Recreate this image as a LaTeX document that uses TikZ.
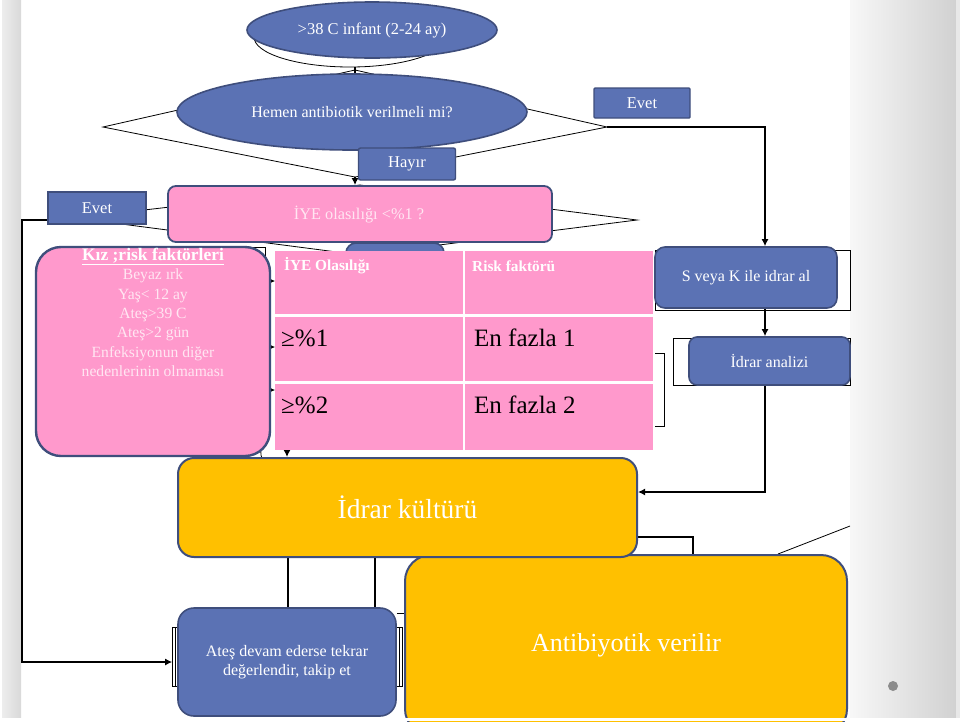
\documentclass[tikz,border=0pt]{standalone}
\usepackage{fontspec}
\setmainfont{Liberation Serif}
\usetikzlibrary{shapes.geometric,arrows.meta,calc}
\definecolor{nblue}{HTML}{5B72B4}
\definecolor{nborder}{HTML}{3F4E7C}
\definecolor{npink}{HTML}{FF99CC}
\definecolor{nyellow}{HTML}{FFC000}
\definecolor{pinktext}{HTML}{FFE6F2}
\pgfdeclarelayer{back}
\pgfdeclarelayer{bg}
\pgfsetlayers{back,bg,main}
\tikzset{
  oval/.style={ellipse, draw=nborder, fill=nblue, line width=1.6pt, text=white, inner sep=0pt},
  bluebox/.style={draw=nborder, fill=nblue, line width=1.6pt, text=white, rounded corners=6pt, inner sep=0pt},
  tagbox/.style={draw=nborder, fill=nblue, line width=1.4pt, text=white, rounded corners=2pt, inner sep=0pt, font=\fontsize{16.5}{19}\selectfont},
  pinkbox/.style={draw=nborder, fill=npink, line width=1.8pt, rounded corners=8pt, inner sep=0pt},
  yellowbox/.style={draw=nborder, fill=nyellow, line width=2pt, text=white, rounded corners=16pt, inner sep=0pt},
  cell/.style={fill=npink, inner sep=0pt, anchor=north west},
  blk/.style={line width=1.8pt, black},
  thinblk/.style={line width=0.8pt, black},
  tip/.style={-{Latex[length=7pt,width=7pt]}}
}
\begin{document}
\begin{tikzpicture}[x=1pt,y=-1pt]
\useasboundingbox (0,0) rectangle (960,721);
\begin{pgfonlayer}{back}
  \fill[white] (0,0) rectangle (960,721);
  \shade[left color=black!7, right color=black!15] (2,0) rectangle (21,718);
  \shade[left color=black!3, right color=black!18] (850,0) rectangle (956,718);
  \fill[black!9] (956,0) rectangle (960,718);
\end{pgfonlayer}

% nodes
\node[oval, minimum width=250, minimum height=56, font=\fontsize{16.5}{19}\selectfont] (start) at (372,30) {>38 C infant (2-24 ay)};
\node[oval, minimum width=350, minimum height=76, font=\fontsize{16}{19}\selectfont] (q) at (352,112) {Hemen antibiotik verilmeli mi?};
\node[tagbox, rounded corners=1pt, minimum width=96, minimum height=30] (evR) at (642,103) {Evet};
\node[tagbox, minimum width=97, minimum height=32] (hayir) at (407,164) {Hayır};
\node[tagbox, rounded corners=0pt, minimum width=98, minimum height=32] (evL) at (97,208) {Evet};
\node[pinkbox, minimum width=384, minimum height=56] (iye) at (360,214) {};
\node[text=pinktext, font=\fontsize{16.3}{19}\selectfont] (iyetxt) at (359,215) {İYE olasılığı <\%1 ?};

\node[pinkbox, line width=2.4pt, rounded corners=25pt, minimum width=234, minimum height=209] (kiz) at (153,351.5) {};
\node[anchor=north, align=center, inner sep=0pt, text=pinktext, font=\fontsize{15.6}{19.3}\selectfont] (kiztxt) at (153,248)
  {\textcolor{white}{\fontsize{17.5}{19.3}\selectfont\bfseries\underline{Kız ;risk faktörleri}}\\ Beyaz ırk\\ Yaş< 12 ay\\ Ateş>39 C\\ Ateş>2 gün\\ Enfeksiyonun diğer\\ nedenlerinin olmaması};

\node[bluebox, rounded corners=10pt, minimum width=98, minimum height=60] (hid) at (395,273) {};

% table
\node[cell, minimum width=188, minimum height=63] (t11) at (275,251) {};
\node[cell, minimum width=188, minimum height=63] (t12) at (465,251) {};
\node[cell, minimum width=188, minimum height=64] (t21) at (275,317) {};
\node[cell, minimum width=188, minimum height=64] (t22) at (465,317) {};
\node[cell, minimum width=188, minimum height=66] (t31) at (275,384) {};
\node[cell, minimum width=188, minimum height=66] (t32) at (465,384) {};
\node[anchor=west, inner sep=0pt, text=white, font=\bfseries\fontsize{15.3}{17}\selectfont] (h1) at (284,266) {İYE Olasılığı};
\node[anchor=west, inner sep=0pt, text=white, font=\bfseries\fontsize{15.3}{17}\selectfont] (h2) at (472,266) {Risk faktörü};
\node[anchor=west, inner sep=0pt, font=\fontsize{25}{28}\selectfont] (r1a) at (281,338) {≥\%1};
\node[anchor=west, inner sep=0pt, font=\fontsize{25}{28}\selectfont] (r1b) at (474,338) {En fazla 1};
\node[anchor=west, inner sep=0pt, font=\fontsize{25}{28}\selectfont] (r2a) at (281,405) {≥\%2};
\node[anchor=west, inner sep=0pt, font=\fontsize{25}{28}\selectfont] (r2b) at (474,405) {En fazla 2};

\node[bluebox, rounded corners=10pt, minimum width=182, minimum height=61, font=\fontsize{16}{19}\selectfont] (sk) at (746,277.5) {S veya K ile idrar al};
\node[bluebox, rounded corners=8pt, minimum width=161, minimum height=48, font=\fontsize{16}{19}\selectfont] (ia) at (769.5,361) {İdrar analizi};

\node[yellowbox, rounded corners=26pt, minimum width=442, minimum height=180, font=\fontsize{26}{30}\selectfont] (antib) at (626,645) {Antibiyotik verilir};
\node[yellowbox, minimum width=459, minimum height=99, font=\fontsize{27.5}{30}\selectfont] (kultur) at (407.5,507.5) {İdrar kültürü};
\node[bluebox, rounded corners=16pt, minimum width=218, minimum height=108, align=center, font=\fontsize{16}{18.5}\selectfont] (ates) at (287,662) {Ateş devam ederse tekrar\\ değerlendir, takip et};

\fill[black!45] (893,686) circle (5);

% connectors behind
\begin{pgfonlayer}{bg}
  \draw[thinblk] (350,37) ellipse [x radius=96, y radius=30];
  \coordinate (ovb) at (355,67);
  \draw[blk] (ovb) -- (ovb |- q.north);
  \coordinate (d1L) at (103,127);
  \coordinate (d1T) at (355,70);
  \coordinate (d1R) at (607,127);
  \coordinate (d1B) at (355,177);
  \draw[thinblk] (d1L) -- (d1T) -- (d1R) -- (d1B) -- cycle;
  \draw[blk, tip] (d1B) -- (d1B |- iye.north);
  \coordinate (c1) at (765,127);
  \draw[blk, tip] (d1R) -- (c1) -- (c1 |- sk.north);
  \coordinate (d2L) at (75,218);
  \coordinate (d2T) at (360,185);
  \coordinate (d2R) at (637,220);
  \coordinate (d2B) at (360,255);
  \draw[thinblk] (d2L) -- (d2T) -- (d2R) -- (d2B) -- cycle;
  \coordinate (c2) at (22,220);
  \draw[blk, tip] (evL.west |- c2) -- (c2) |- ([xshift=-5pt]ates.west);
  \draw[thinblk] (55,247) rectangle (265,440);
  \coordinate (k1) at (250,281);
  \coordinate (k2) at (250,347);
  \coordinate (k3) at (250,390);
  \draw[thinblk, tip] (k1) -- (k1 -| t11.west);
  \draw[thinblk, tip] (k2) -- (k2 -| t11.west);
  \draw[thinblk, tip] (k3) -- (k3 -| t11.west);
  \draw[thinblk] (262,445) arc[start angle=200, end angle=160, radius=20];
  \coordinate (ka) at (287,430);
  \draw[blk, tip] (ka) -- (ka |- kultur.north);
  \draw[thinblk] (655,250) rectangle (850,310);
  \draw[blk, tip] (c1 |- sk.south) -- (c1 |- ia.north);
  \draw[thinblk] (673,338) rectangle (850,385);
  \draw[thinblk] (655,353) -- (664,353) -- (664,426) -- (655,426);
  \coordinate (c3) at (765,492);
  \draw[blk, tip] (c1 |- ia.south) -- (c3) -- (c3 -| kultur.east);
  \coordinate (kb) at (288,560);
  \coordinate (kc) at (375,560);
  \draw[blk] (kb |- kultur.south) -- (kb |- ates.north);
  \draw[blk] (kc |- kultur.south) -- (kc |- ates.north);
  \coordinate (c4) at (693,537);
  \draw[line width=1.2pt] (c4 -| kultur.east) -- (c4) -- (c4 |- antib.north);
  \coordinate (c5) at (778,554);
  \draw[thinblk] (c5) -- (850,526);
  \draw[thinblk] (172,627) rectangle (402,686);
  \draw[thinblk] (175,627) -- (175,686);
  \draw[thinblk] (399,627) -- (399,686);
  \coordinate (c6) at (400,613);
  \draw[thinblk] (c6 -| ates.east) -- (c6 -| antib.west);
\end{pgfonlayer}

\fill[white] (0,717.5) rectangle (960,721);
\end{tikzpicture}
\end{document}
